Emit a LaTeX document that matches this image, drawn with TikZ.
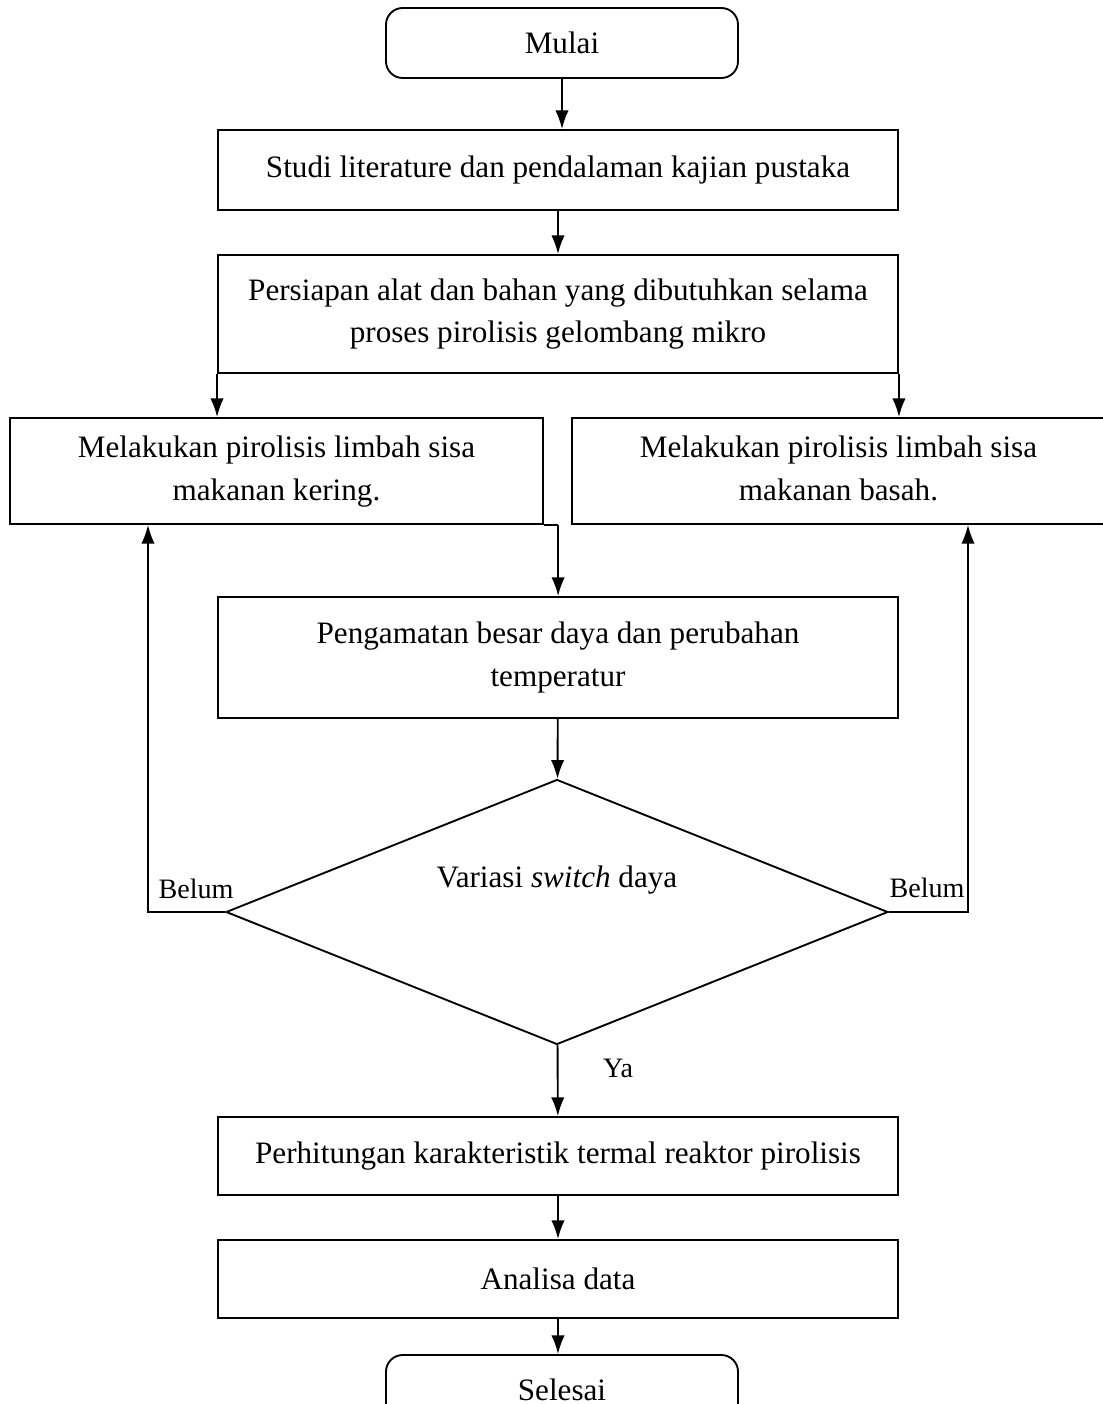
\documentclass[tikz,border=0pt]{standalone}
\usepackage{fontspec}
\setmainfont{Liberation Serif}
\usetikzlibrary{shapes.geometric, arrows.meta}

\begin{document}
\begin{tikzpicture}[x=0.015cm, y=-0.015cm, >={Latex[length=2.8mm, width=2mm]},
    font=\fontsize{13.3}{18.3}\selectfont,
    proses/.style ={rectangle, draw, thick, align=center, minimum width=10.2cm, minimum height=1.2cm},
    terminal/.style ={rectangle, rounded corners=2.5mm, draw, thick, minimum width=5.28cm, minimum height=1.05cm},
    keputusan/.style ={diamond, draw, thick, minimum width=9.93cm, minimum height=3.975cm},
    keterangan/.style ={font=\fontsize{12}{14}\selectfont, inner sep=0pt}]
   \useasboundingbox (0,0) rectangle (1103,1404);
   \node[terminal] (mulai) at (562,43) {Mulai};
   \node[proses] (studi) at (558,170) {Studi literature dan pendalaman kajian pustaka};
   \node[proses, minimum height=1.77cm] (persiapan) at (558,314) {Persiapan alat dan bahan yang dibutuhkan selama\\ proses pirolisis gelombang mikro};
   \node[proses, minimum width=8cm, minimum height=1.59cm, text depth=0.25em] (kering) at (276.5,471) {Melakukan pirolisis limbah sisa\\ makanan kering.};
   \node[proses, minimum width=8cm, minimum height=1.59cm, text depth=0.25em] (basah) at (838.5,471) {Melakukan pirolisis limbah sisa\\ makanan basah.};
   \node[proses, minimum height=1.815cm] (pengamatan) at (558,657.5) {Pengamatan besar daya dan perubahan\\ temperatur};
   \node[keputusan] (variasi) at (557,912) {};
   \node (variasiteks) at (557,880) {Variasi \textit{switch} daya};
   \node[proses, minimum height=1.17cm] (perhitungan) at (558,1156) {Perhitungan karakteristik termal reaktor pirolisis};
   \node[proses, minimum height=1.17cm] (analisa) at (558,1279) {Analisa data};
   \node[terminal] (selesai) at (562,1390) {Selesai};
   \node[keterangan] (belumkiri) at (196,889) {Belum};
   \node[keterangan] (belumkanan) at (927,888) {Belum};
   \node[keterangan] (ya) at (618,1068) {Ya};
   \coordinate (kiri) at (148,912);
   \coordinate (kanan) at (968,912);

   \draw[thick, ->] (mulai) -- (mulai |- studi.north);
   \draw[thick, ->] (studi) -- (persiapan);
   \draw[thick, ->] (persiapan.south west) -- (persiapan.south west |- kering.north);
   \draw[thick, ->] (persiapan.south east) -- (persiapan.south east |- basah.north);
   \draw[thick] (kering.south east) -- ++(14,0) coordinate (gabung);
   \draw[thick, ->] (gabung) -- (gabung |- pengamatan.north);
   \draw[thick, ->] (pengamatan) -- (variasi);
   \draw[thick, ->] (variasi.west) -- (kiri) -- (kiri |- kering.south);
   \draw[thick, ->] (variasi.east) -- (kanan) -- (kanan |- basah.south);
   \draw[thick, ->] (variasi) -- (perhitungan);
   \draw[thick, ->] (perhitungan) -- (analisa);
   \draw[thick, ->] (analisa) -- (analisa |- selesai.north);
\end{tikzpicture}
\end{document}
